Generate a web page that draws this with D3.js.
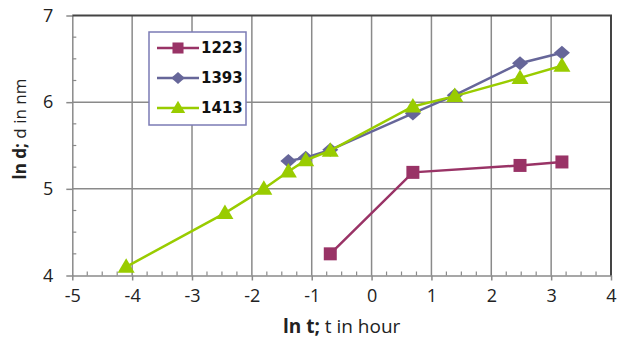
<!DOCTYPE html>
<html>
<head>
<meta charset="utf-8">
<script src="https://cdn.jsdelivr.net/npm/d3@7"></script>
<style>
  body { margin: 0; background: #fff; }
  svg { display: block; }
</style>
</head>
<body>
<div id="chart"></div>
<script>
// data (ln t, ln d)
const xs1223 = [-0.69, 0.69, 2.48, 3.18];
const ys1223 = [4.25, 5.19, 5.27, 5.31];
const xs1393 = [-1.39, -1.1, -0.69, 0.69, 1.39, 2.48, 3.18];
const ys1393 = [5.32, 5.36, 5.45, 5.87, 6.08, 6.45, 6.57];
const xs1413 = [-4.1, -2.45, -1.8, -1.39, -1.1, -0.69, 0.69, 1.39, 2.48, 3.18];
const ys1413 = [4.1, 4.72, 5.0, 5.2, 5.33, 5.44, 5.95, 6.07, 6.28, 6.42];
const xTicks = [-5, -4, -3, -2, -1, 0, 1, 2, 3, 4];
const yTicks = [4, 5, 6, 7];

const series = [
  { name: "1223", color: "#993366", shape: "square", xs: xs1223, ys: ys1223 },
  { name: "1393", color: "#666699", shape: "diamond", xs: xs1393, ys: ys1393 },
  { name: "1413", color: "#99cc00", shape: "triangle", xs: xs1413, ys: ys1413 }
];

const fullWidth = 620, fullHeight = 343;
const margin = { top: 15.5, right: 9, bottom: 67.5, left: 72.3 };
const width = fullWidth - margin.left - margin.right;
const height = fullHeight - margin.top - margin.bottom;

const svg = d3.select("#chart").append("svg")
    .attr("width", fullWidth)
    .attr("height", fullHeight)
    .style("font-family", "'Open Sans', sans-serif");

const g = svg.append("g")
    .attr("transform", `translate(${margin.left},${margin.top})`);

const x = d3.scaleLinear().domain([-5, 4]).range([0, width]);
const y = d3.scaleLinear().domain([4, 7]).range([height, 0]);

// grid
g.append("g").selectAll("line").data(xTicks.slice(1, -1)).join("line")
    .attr("x1", d => x(d)).attr("x2", d => x(d))
    .attr("y1", 0).attr("y2", height)
    .style("stroke", "#8a8a8a").style("stroke-width", 1.5);
g.append("g").selectAll("line").data(yTicks.slice(1, -1)).join("line")
    .attr("x1", 0).attr("x2", width)
    .attr("y1", d => y(d)).attr("y2", d => y(d))
    .style("stroke", "#8a8a8a").style("stroke-width", 1.5);

// minor ticks (inside)
const xMinor = d3.range(-5, 4, 0.25).filter(v => !Number.isInteger(v));
const yMinor = d3.range(4, 7, 0.25).filter(v => !Number.isInteger(v));

const gX = g.append("g")
    .attr("transform", `translate(0,${height})`)
    .call(d3.axisBottom(x).tickValues(xTicks).tickSize(5).tickSizeOuter(0).tickPadding(9).tickFormat(d => String(d)));
const gY = g.append("g")
    .call(d3.axisLeft(y).tickValues(yTicks).tickSize(6).tickSizeOuter(0).tickPadding(13).tickFormat(d => String(d)));

[gX, gY].forEach(ax => {
  ax.select(".domain").style("stroke", "#8a8a8a").style("stroke-width", 1.5);
  ax.selectAll(".tick line").style("stroke", "#8a8a8a").style("stroke-width", 1.5);
  ax.selectAll(".tick text").style("font-size", "18px").style("fill", "#222")
      .style("font-family", "'Open Sans', sans-serif");
});

g.append("g").selectAll("line").data(xMinor).join("line")
    .attr("x1", d => x(d)).attr("x2", d => x(d))
    .attr("y1", height).attr("y2", height - 4)
    .style("stroke", "#8a8a8a").style("stroke-width", 1.2);
g.append("g").selectAll("line").data(yMinor).join("line")
    .attr("x1", 0).attr("x2", 4)
    .attr("y1", d => y(d)).attr("y2", d => y(d))
    .style("stroke", "#8a8a8a").style("stroke-width", 1.2);

// top and right border
g.append("path")
    .attr("d", `M0,${y(7)}H${x(4)}V${height}`)
    .style("fill", "none").style("stroke", "#444").style("stroke-width", 2);

// marker shapes
const markerPath = {
  square: "M-6.5,-6.5H6.5V6.5H-6.5Z",
  diamond: "M0,-7L8,0L0,7L-8,0Z",
  triangle: "M0,-8.5L8.5,6L-8.5,6Z"
};

const line = d3.line().x(d => x(d[0])).y(d => y(d[1]));

series.forEach(s => {
  const pts = s.xs.map((v, i) => [v, s.ys[i]]);
  g.append("path")
      .datum(pts)
      .attr("d", line)
      .style("fill", "none")
      .style("stroke", s.color)
      .style("stroke-width", 2.5);
  g.append("g").selectAll("path").data(pts).join("path")
      .attr("d", markerPath[s.shape])
      .attr("transform", d => `translate(${x(d[0])},${y(d[1])})`)
      .style("fill", s.color);
});

// legend
const legend = svg.append("g").attr("transform", "translate(149,32)");
legend.append("rect")
    .attr("width", 97).attr("height", 93)
    .style("fill", "#fff").style("stroke", "#7b7bb5").style("stroke-width", 1.5);
series.forEach((s, i) => {
  const ly = 16 + i * 30;
  legend.append("line")
      .attr("x1", 8).attr("x2", 50).attr("y1", ly).attr("y2", ly)
      .style("stroke", s.color).style("stroke-width", 2.5);
  legend.append("path")
      .attr("d", markerPath[s.shape])
      .attr("transform", `translate(29,${ly}) scale(0.85)`)
      .style("fill", s.color);
  legend.append("text")
      .attr("x", 52).attr("y", ly).attr("dy", "0.36em")
      .style("font-family", "'DejaVu Sans', sans-serif")
      .style("font-weight", "bold").style("font-size", "15px")
      .style("fill", "#111")
      .text(s.name);
});

// axis titles
const xTitle = svg.append("text")
    .attr("x", margin.left + width / 2).attr("y", 333)
    .attr("text-anchor", "middle")
    .style("font-size", "19px").style("fill", "#222");
xTitle.append("tspan").style("font-weight", "bold").text("ln t;");
xTitle.append("tspan").text(" t in hour");

const yTitle = svg.append("text")
    .attr("transform", "translate(26,129) rotate(-90)")
    .attr("text-anchor", "middle")
    .style("font-size", "17px").style("fill", "#222");
yTitle.append("tspan").style("font-weight", "bold").text("ln d;");
yTitle.append("tspan").text(" d in nm");
</script>
</body>
</html>
